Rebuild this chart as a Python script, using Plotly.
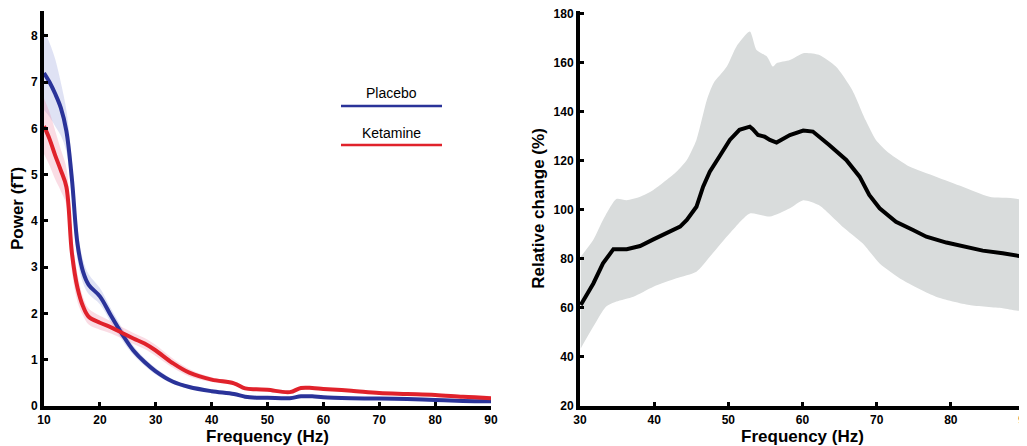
import plotly.graph_objects as go

# ---------------- Left panel data: power spectra ----------------
freq_left = [10, 11, 12, 13, 14, 15, 16, 17, 18, 20, 22, 24, 26, 28, 30, 33, 36, 40,
             44, 46, 48, 50, 54, 56, 58, 60, 65, 70, 75, 80, 85, 90]
placebo_mean = [7.2, 7.0, 6.75, 6.45, 5.95, 4.9, 3.5, 2.9, 2.62, 2.37, 1.95, 1.55, 1.2, 0.95,
                0.75, 0.53, 0.41, 0.32, 0.26, 0.2, 0.18, 0.18, 0.17, 0.21, 0.21, 0.19, 0.17,
                0.16, 0.15, 0.13, 0.11, 0.10]
placebo_upper = [8.1, 7.85, 7.5, 7.0, 6.4, 5.3, 3.85, 3.15, 2.85, 2.55, 2.1, 1.68, 1.3, 1.03,
                 0.82, 0.58, 0.45, 0.35, 0.29, 0.22, 0.2, 0.2, 0.19, 0.23, 0.23, 0.21, 0.19,
                 0.18, 0.17, 0.15, 0.13, 0.12]
placebo_lower = [6.4, 6.25, 6.05, 5.85, 5.5, 4.5, 3.15, 2.65, 2.42, 2.2, 1.8, 1.42, 1.1, 0.87,
                 0.68, 0.48, 0.37, 0.29, 0.23, 0.18, 0.16, 0.16, 0.15, 0.19, 0.19, 0.17, 0.15,
                 0.14, 0.13, 0.11, 0.09, 0.08]
ketamine_mean = [6.05, 5.77, 5.42, 5.1, 4.74, 3.3, 2.55, 2.15, 1.93, 1.8, 1.7, 1.58, 1.46, 1.35,
                 1.2, 0.93, 0.72, 0.57, 0.49, 0.38, 0.36, 0.35, 0.3, 0.39, 0.39, 0.37, 0.33,
                 0.28, 0.26, 0.24, 0.2, 0.17]
ketamine_upper = [6.65, 6.35, 5.95, 5.55, 5.15, 3.7, 2.85, 2.35, 2.1, 1.95, 1.83, 1.7, 1.58, 1.47,
                  1.32, 1.03, 0.8, 0.62, 0.53, 0.41, 0.39, 0.38, 0.33, 0.42, 0.42, 0.4, 0.36,
                  0.31, 0.29, 0.27, 0.23, 0.2]
ketamine_lower = [5.45, 5.2, 4.9, 4.65, 4.35, 2.9, 2.25, 1.95, 1.76, 1.65, 1.57, 1.46, 1.34, 1.23,
                  1.08, 0.83, 0.64, 0.52, 0.45, 0.35, 0.33, 0.32, 0.27, 0.36, 0.36, 0.34, 0.3,
                  0.25, 0.23, 0.21, 0.17, 0.14]

# ---------------- Right panel data: relative change ----------------
freq_rel = [30.1, 31.8, 33.1, 34.5, 36.3, 38.1, 39.9, 41.7, 43.5, 44.4, 45.7, 46.6, 47.5, 48.8,
            50.2, 51.5, 52.9, 53.3, 54.0, 54.9, 55.6, 56.5, 58.3, 60.1, 61.4, 63.6, 65.9, 67.7,
            69.0, 70.4, 72.6, 74.9, 76.7, 79.4, 81.6, 84.3, 87.0, 89.9]
rel_mean = [61.2, 70, 78.2, 84, 84, 85.3, 88, 90.5, 93.2, 95.9, 101.3, 109.5, 115.6, 121.8,
            128.6, 132.7, 134, 133, 130.6, 129.9, 128.6, 127.5, 130.6, 132.4, 132, 126.5, 120.4,
            113.6, 106.1, 100.7, 95.2, 91.8, 89.1, 86.7, 85.4, 83.4, 82.3, 80.9]

freq_up = [30.1, 31.8, 33.1, 34.9, 36.3, 38.1, 39.9, 43.0, 44.4, 45.7, 47.1, 48.0, 49.8, 51.1,
           52.9, 53.8, 55.2, 56.0, 56.5, 58.3, 60.1, 62.2, 64.5, 66.7, 68.5, 69.9, 71.7, 74.4,
           78.0, 81.6, 85.2, 89.9]
rel_upper = [80.9, 87.8, 95.9, 104.5, 104, 105.4, 108.2, 115.6, 120.4, 128.6, 144.9, 151.7,
             158.5, 166.7, 172.8, 165.3, 162.6, 158.5, 159.9, 161.2, 164, 163.3, 158.5, 149,
             136.7, 128.6, 123.1, 117.7, 113.6, 109.5, 105.4, 103.4]

freq_low = [30.1, 31.8, 33.5, 34.9, 37.2, 39.9, 43.0, 45.7, 47.5, 50.2, 52.9, 55.6, 58.3, 60.1,
            62.2, 65.4, 68.1, 70.4, 73.5, 78.0, 82.5, 87.0, 89.9]
rel_lower = [43.5, 52.4, 60.5, 62.6, 64.6, 68.7, 72.1, 74.8, 80.9, 90.5, 98.6, 97.3, 100.7, 104,
             102, 93.2, 86.4, 78.2, 71.4, 64.6, 61.2, 59.9, 59.2]

left_xticks = [10, 20, 30, 40, 50, 60, 70, 80, 90]
left_yticks = [0, 1, 2, 3, 4, 5, 6, 7, 8]
right_xticks = [30, 40, 50, 60, 70, 80, 90]
right_yticks = [20, 40, 60, 80, 100, 120, 140, 160, 180]

BLUE = "#2a3399"
RED = "#e0222b"

fig = go.Figure()

# Left bands
fig.add_trace(go.Scatter(x=freq_left + freq_left[::-1], y=placebo_upper + placebo_lower[::-1],
                         fill="toself", fillcolor="rgba(140,150,215,0.28)", line=dict(width=0, shape="spline"),
                         mode="lines", hoverinfo="skip", showlegend=False, xaxis="x", yaxis="y"))
fig.add_trace(go.Scatter(x=freq_left + freq_left[::-1], y=ketamine_upper + ketamine_lower[::-1],
                         fill="toself", fillcolor="rgba(240,140,165,0.30)", line=dict(width=0, shape="spline"),
                         mode="lines", hoverinfo="skip", showlegend=False, xaxis="x", yaxis="y"))
fig.add_trace(go.Scatter(x=freq_left, y=placebo_mean, mode="lines", name="Placebo",
                         line=dict(color=BLUE, width=4, shape="spline"), showlegend=False,
                         xaxis="x", yaxis="y"))
fig.add_trace(go.Scatter(x=freq_left, y=ketamine_mean, mode="lines", name="Ketamine",
                         line=dict(color=RED, width=4, shape="spline"), showlegend=False,
                         xaxis="x", yaxis="y"))

# Right band + mean
fig.add_trace(go.Scatter(x=freq_up + freq_low[::-1], y=rel_upper + rel_lower[::-1],
                         fill="toself", fillcolor="#d9dcdc", line=dict(width=0, shape="spline", smoothing=0.6),
                         mode="lines", hoverinfo="skip", showlegend=False, xaxis="x2", yaxis="y2"))
fig.add_trace(go.Scatter(x=freq_rel, y=rel_mean, mode="lines",
                         line=dict(color="black", width=4), showlegend=False,
                         xaxis="x2", yaxis="y2"))

tickfont = dict(family="Liberation Sans Narrow, Arial Narrow, Liberation Sans", size=12,
                color="black", weight="bold")
titlefont = dict(family="Liberation Sans, Arial", size=17, color="black", weight="bold")

axis_common = dict(showline=True, linecolor="black", linewidth=4, ticks="inside", ticklen=4,
                   tickwidth=3, tickcolor="black", showgrid=False, zeroline=False,
                   tickfont=tickfont, mirror=False, automargin=False,
                   ticklabeloverflow="allow")

# page body has an 8px margin, so the figure is offset by 8px from the window corner
OFF = 8
W, H = 1027 - OFF, 446 - OFF
L, R, T, B = 44 - OFF, 2, 11 - OFF, 40
pw = W - L - R
ph = H - T - B

fig.update_layout(
    width=W, height=H,
    margin=dict(l=L, r=R, t=T, b=B, autoexpand=False),
    paper_bgcolor="white", plot_bgcolor="white",
    xaxis=dict(domain=[0, (491 - 44) / pw], range=[10, 90], tickvals=left_xticks,
               title=dict(text="Frequency (Hz)", font=titlefont, standoff=4), anchor="y",
               **axis_common),
    yaxis=dict(domain=[0, 1], range=[0, 8.54], tickvals=left_yticks,
               title=dict(text="Power (fT)", font=titlefont, standoff=6), anchor="x",
               **axis_common),
    xaxis2=dict(domain=[(580 - 44) / pw, 1.0], range=[30, 90], tickvals=right_xticks,
                title=dict(text="Frequency (Hz)", font=titlefont, standoff=4), anchor="y2",
                **axis_common),
    yaxis2=dict(domain=[0, 1], range=[20, 181.2], tickvals=right_yticks,
                title=dict(text="Relative change (%)", font=titlefont, standoff=6), anchor="x2",
                **axis_common),
)

# Legend (drawn manually: label above a line sample), page-pixel positions
legend_items = [("Placebo", BLUE, 93, 106), ("Ketamine", RED, 133, 145)]
for label, color, ty, ly in legend_items:
    fig.add_annotation(x=(391 - 44) / pw, y=1 - (ty - 11) / ph, xref="paper", yref="paper",
                       text=label, showarrow=False, xanchor="center", yanchor="middle",
                       font=dict(family="Liberation Sans, Arial", size=14, color="black"))
    fig.add_shape(type="line", xref="paper", yref="paper",
                  x0=(341 - 44) / pw, x1=(442 - 44) / pw,
                  y0=1 - (ly - 11) / ph, y1=1 - (ly - 11) / ph,
                  line=dict(color=color, width=2.5))

fig.write_html("out.html")
